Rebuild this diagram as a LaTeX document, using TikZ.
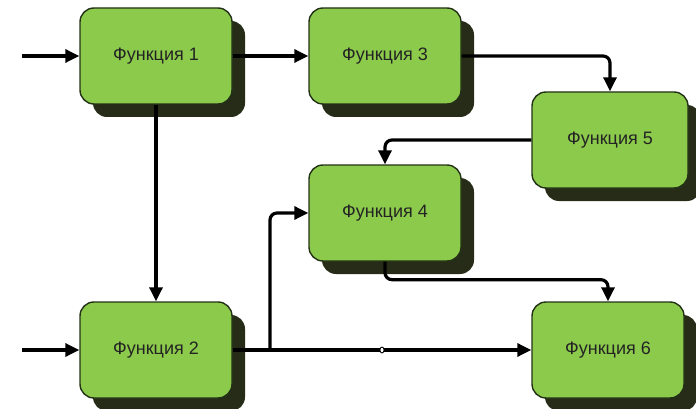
\documentclass[tikz,border=0pt]{standalone}
\usepackage{fontspec}
\setmainfont{Liberation Sans}
\usetikzlibrary{arrows.meta,shadows,shapes.geometric}
\definecolor{boxgreen}{RGB}{140,202,76}
\definecolor{shadowdark}{RGB}{38,44,24}
\definecolor{edgedark}{RGB}{35,50,22}
\definecolor{labeltext}{RGB}{35,35,35}

\begin{document}
\begin{tikzpicture}[x=1pt,y=-1pt,
  fbox/.style={draw=edgedark, line width=1.4pt, fill=boxgreen,
    rounded corners=14pt, minimum width=152pt, minimum height=96pt,
    font=\fontsize{18}{22}\selectfont, text=labeltext,
    drop shadow={shadow xshift=13pt, shadow yshift=-13pt,
      fill=shadowdark, opacity=1}},
  flow/.style={line width=3.2pt, rounded corners=7pt,
    -{Triangle[length=14pt,width=13pt]}}]
\useasboundingbox (0,0) rectangle (696,409);

% function blocks
\node[fbox] (f1) at (156,56) {Функция 1};
\node[fbox] (f3) at (385,56) {Функция 3};
\node[fbox, minimum width=156pt] (f5) at (610,140) {Функция 5};
\node[fbox] (f4) at (385,213) {Функция 4};
\node[fbox] (f2) at (156,350) {Функция 2};
\node[fbox] (f6) at (608,350) {Функция 6};

% free ends and branch point
\coordinate (in1) at (22,56);
\coordinate (in2) at (22,350);
\coordinate (split) at (270,350);

% connectors
\draw[flow] (in1) -- (f1);
\draw[flow] (f1) -- (f3);
\draw[flow] (f3.east) -| (f5.north);
\draw[flow] (f5.west) -| (f4.north);
\draw[flow] (f1.south) -- (f2.north);
\draw[flow] (in2) -- (f2);
\draw[flow] (f2.east) -- (f6.west);
\draw[flow] (split) |- (f4.west);
\draw[flow] (f4.south) -- ++(0,18) -| (f6.north);

% small mark on the lower line
\node[ellipse, draw=black, fill=white, line width=0.8pt, inner sep=0pt,
  minimum width=4pt, minimum height=6pt] (mark) at (382,350) {};
\end{tikzpicture}
\end{document}
